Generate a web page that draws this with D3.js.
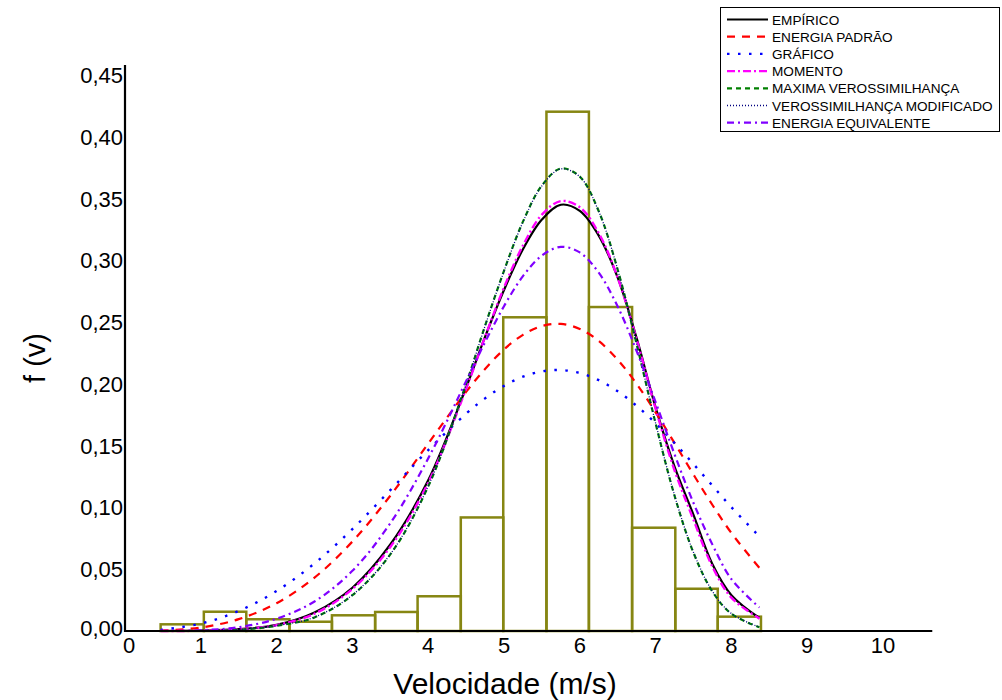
<!DOCTYPE html>
<html>
<head>
<meta charset="utf-8">
<script src="https://cdn.jsdelivr.net/npm/d3@7"></script>
<style>
  html, body { margin: 0; padding: 0; background: #fff; }
  svg { display: block; font-family: "Liberation Sans", Arial, sans-serif; }
</style>
</head>
<body>
<svg id="chart" width="1002" height="700"></svg>
<script>
// ---------------- DATA ----------------
const xTicks = [0, 1, 2, 3, 4, 5, 6, 7, 8, 9, 10];
const yTicks = [0, 0.05, 0.10, 0.15, 0.20, 0.25, 0.30, 0.35, 0.40, 0.45];
const yTickLabels = ["0,00", "0,05", "0,10", "0,15", "0,20", "0,25", "0,30", "0,35", "0,40", "0,45"];

// histogram (bin edges in m/s, density per bin)
const binEdges = [0.47, 1.04, 1.60, 2.17, 2.73, 3.30, 3.86, 4.43, 4.99, 5.56, 6.12, 6.69, 7.26, 7.82, 8.39];
const binDensity = [0.0054, 0.0156, 0.0095, 0.0075, 0.0127, 0.0154, 0.0281, 0.0919, 0.2539, 0.4203, 0.2622, 0.0836, 0.0342, 0.0116];

// velocities at which the curves are read
const vGrid = [0.47, 1.0, 1.5, 2.0, 2.5, 3.0, 3.5, 4.0, 4.5, 4.75, 5.0, 5.25, 5.5, 5.75, 6.0, 6.25, 6.5, 6.75, 7.0, 7.25, 7.5, 7.75, 8.0, 8.37];

const empirico      = [0.0000, 0.0003, 0.0015, 0.0050, 0.0150, 0.0350, 0.0700, 0.1220, 0.1970, 0.2380, 0.2760, 0.3090, 0.3330, 0.3450, 0.3400, 0.3200, 0.2860, 0.2370, 0.1810, 0.1330, 0.0940, 0.0540, 0.0290, 0.0105];
const energiaPadrao = [0.0003, 0.0028, 0.0096, 0.0225, 0.0432, 0.0724, 0.1095, 0.1517, 0.1935, 0.2121, 0.2279, 0.2397, 0.2468, 0.2485, 0.2445, 0.2347, 0.2195, 0.2000, 0.1770, 0.1521, 0.1266, 0.1020, 0.0793, 0.0510];
const grafico       = [0.0009, 0.0060, 0.0162, 0.0324, 0.0547, 0.0825, 0.1140, 0.1464, 0.1759, 0.1883, 0.1984, 0.2058, 0.2101, 0.2112, 0.2088, 0.2030, 0.1940, 0.1822, 0.1681, 0.1521, 0.1351, 0.1176, 0.1002, 0.0765];
const momento       = [0.0000, 0.0002, 0.0014, 0.0048, 0.0140, 0.0340, 0.0680, 0.1200, 0.1960, 0.2380, 0.2780, 0.3120, 0.3370, 0.3480, 0.3430, 0.3220, 0.2860, 0.2360, 0.1800, 0.1300, 0.0900, 0.0520, 0.0270, 0.0100];
const maxVeross     = [0.0000, 0.0001, 0.0010, 0.0042, 0.0110, 0.0290, 0.0620, 0.1170, 0.2000, 0.2470, 0.2915, 0.3313, 0.3606, 0.3743, 0.3678, 0.3397, 0.2924, 0.2321, 0.1680, 0.1095, 0.0633, 0.0319, 0.0139, 0.0030];
const veroModif     = [0.0000, 0.0001, 0.0011, 0.0043, 0.0112, 0.0292, 0.0622, 0.1172, 0.2000, 0.2468, 0.2912, 0.3310, 0.3603, 0.3740, 0.3676, 0.3396, 0.2925, 0.2323, 0.1683, 0.1098, 0.0636, 0.0321, 0.0141, 0.0031];
const energiaEquiv  = [0.0000, 0.0006, 0.0031, 0.0099, 0.0239, 0.0487, 0.0872, 0.1397, 0.2022, 0.2338, 0.2629, 0.2872, 0.3039, 0.3109, 0.3064, 0.2900, 0.2626, 0.2265, 0.1853, 0.1430, 0.1036, 0.0699, 0.0420, 0.0190];

const seriesNames = ["EMPÍRICO", "ENERGIA PADRÃO", "GRÁFICO", "MOMENTO", "MAXIMA VEROSSIMILHANÇA", "VEROSSIMILHANÇA MODIFICADO", "ENERGIA EQUIVALENTE"];
const seriesValues = [empirico, energiaPadrao, grafico, momento, maxVeross, veroModif, energiaEquiv];

// ---------------- STYLES ----------------
const styles = [
  { color: "#000000", width: 2.2, dash: null },
  { color: "#ff0000", width: 2.2, dash: "8,7" },
  { color: "#0000ff", width: 2.4, dash: "2.5,8.5" },
  { color: "#ff00ff", width: 2.4, dash: "8,3,2,3" },
  { color: "#008000", width: 2.2, dash: "5,4" },
  { color: "#000080", width: 1.3, dash: "1,2" },
  { color: "#8000ff", width: 2.2, dash: "7,4,2,4" }
];
const drawOrder = [0, 1, 2, 3, 4, 5, 6];

// ---------------- SCALES ----------------
const svg = d3.select("#chart");
const x = d3.scaleLinear().domain([0, 10]).range([125, 883]);
const y = d3.scaleLinear().domain([0, 0.45]).range([631, 75]);
const xAxisEnd = 10.65, yAxisEnd = 0.458;

// ---------------- HISTOGRAM ----------------
const bins = binDensity.map((d, i) => ({ x0: binEdges[i], x1: binEdges[i + 1], d }));
svg.append("g").selectAll("rect").data(bins).enter().append("rect")
  .attr("x", b => x(b.x0))
  .attr("y", b => y(b.d))
  .attr("width", b => x(b.x1) - x(b.x0))
  .attr("height", b => y(0) - y(b.d))
  .attr("fill", "none")
  .attr("stroke", "#868612")
  .attr("stroke-width", 2.5);

// ---------------- CURVES ----------------
const line = d3.line()
  .x(d => x(d[0]))
  .y(d => y(d[1]))
  .curve(d3.curveCatmullRom.alpha(0.5));

drawOrder.forEach(i => {
  const pts = vGrid.map((v, j) => [v, seriesValues[i][j]]);
  const s = styles[i];
  svg.append("path")
    .attr("d", line(pts))
    .attr("fill", "none")
    .attr("stroke", s.color)
    .attr("stroke-width", s.width)
    .attr("stroke-dasharray", s.dash);
});

// ---------------- AXES ----------------
svg.append("line")
  .attr("x1", x(0)).attr("x2", x(0))
  .attr("y1", y(0) + 1).attr("y2", y(yAxisEnd))
  .attr("stroke", "#000").attr("stroke-width", 2.2);
svg.append("line")
  .attr("x1", x(0) - 1).attr("x2", x(xAxisEnd))
  .attr("y1", y(0)).attr("y2", y(0))
  .attr("stroke", "#000").attr("stroke-width", 2.2);

svg.append("g").selectAll("text").data(xTicks).enter().append("text")
  .attr("x", d => x(d) + (d === 0 ? 4 : 0))
  .attr("y", y(0) + 22)
  .attr("text-anchor", "middle")
  .attr("font-size", 22)
  .attr("fill", "#000")
  .text(d => String(d));

svg.append("g").selectAll("text").data(yTicks).enter().append("text")
  .attr("x", x(0) - 2)
  .attr("y", d => y(d) + 8 - (d === 0 ? 3 : 0))
  .attr("text-anchor", "end")
  .attr("font-size", 22)
  .attr("fill", "#000")
  .text((d, i) => yTickLabels[i]);

svg.append("text")
  .attr("x", 505).attr("y", 694)
  .attr("text-anchor", "middle")
  .attr("font-size", 30)
  .attr("fill", "#000")
  .text("Velocidade (m/s)");

svg.append("text")
  .attr("transform", "translate(45,358) rotate(-90)")
  .attr("text-anchor", "middle")
  .attr("font-size", 29)
  .attr("fill", "#000")
  .text("f (v)");

// ---------------- LEGEND ----------------
const lg = svg.append("g");
lg.append("rect")
  .attr("x", 720.5).attr("y", 7.5)
  .attr("width", 279).attr("height", 124)
  .attr("fill", "#fff").attr("stroke", "#000").attr("stroke-width", 1);
seriesNames.forEach((name, i) => {
  const ly = 19.5 + i * 17.2;
  const s = styles[i];
  lg.append("line")
    .attr("x1", 727).attr("x2", 768)
    .attr("y1", ly).attr("y2", ly)
    .attr("stroke", s.color)
    .attr("stroke-width", s.width)
    .attr("stroke-dasharray", s.dash);
  lg.append("text")
    .attr("x", 772).attr("y", ly + 5)
    .attr("font-size", 13.6)
    .attr("fill", "#000")
    .text(name);
});
</script>
</body>
</html>
